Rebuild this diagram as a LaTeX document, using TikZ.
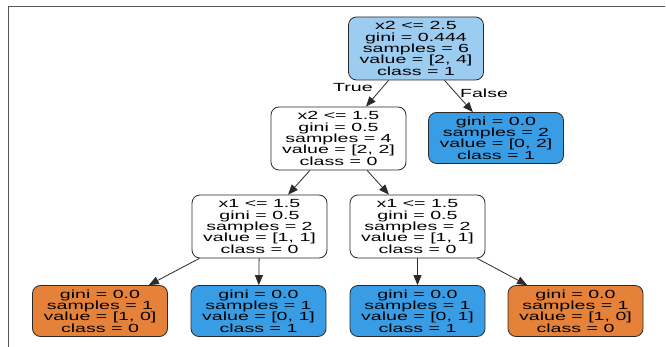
\documentclass[tikz,border=0pt]{standalone}
\usepackage{fontspec}
\setmainfont{Liberation Sans}[FakeStretch=1.66]
\usetikzlibrary{arrows.meta}
\definecolor{lblue}{HTML}{9DCCF1}
\definecolor{dblue}{HTML}{399DE5}
\definecolor{orng}{HTML}{E58139}
\definecolor{framec}{HTML}{555555}
\definecolor{edgec}{HTML}{2A2A2A}
\tikzset{
  tnode/.style={draw=edgec, rounded corners=8pt, line width=0.8pt, align=center,
    inner sep=0pt, minimum width=135pt, minimum height=63pt,
    font=\fontsize{11.8}{11.4}\selectfont, text=black},
  leafnode/.style={tnode, minimum height=51pt},
  edge/.style={draw=edgec, line width=0.8pt, -{Triangle[length=10pt,width=8pt]}},
  elabel/.style={font=\fontsize{11.8}{11.4}\selectfont, inner sep=0pt, text=black}
}
\begin{document}
\begin{tikzpicture}[x=1pt,y=-1pt]
\useasboundingbox (0,0) rectangle (666,347);
\fill[white] (0,0) rectangle (666,347);
\draw[framec, line width=1.4pt] (8.5,347) -- (8.5,6.5) -- (665,6.5);

\node[tnode, fill=lblue] (root) at (416,48.5) {x2 <= 2.5\\gini = 0.444\\samples = 6\\value = [2, 4]\\class = 1};
\node[tnode, fill=white] (n1) at (338.5,138.5) {x2 <= 1.5\\gini = 0.5\\samples = 4\\value = [2, 2]\\class = 0};
\node[leafnode, fill=dblue] (lf) at (496,138) {gini = 0.0\\samples = 2\\value = [0, 2]\\class = 1};
\node[tnode, fill=white] (n2l) at (259.5,226.5) {x1 <= 1.5\\gini = 0.5\\samples = 2\\value = [1, 1]\\class = 0};
\node[tnode, fill=white] (n2r) at (417.5,226.5) {x1 <= 1.5\\gini = 0.5\\samples = 2\\value = [1, 1]\\class = 0};
\node[leafnode, fill=orng] (l1) at (100,311) {gini = 0.0\\samples = 1\\value = [1, 0]\\class = 0};
\node[leafnode, fill=dblue] (l2) at (258.5,311) {gini = 0.0\\samples = 1\\value = [0, 1]\\class = 1};
\node[leafnode, fill=dblue] (l3) at (417.5,311) {gini = 0.0\\samples = 1\\value = [0, 1]\\class = 1};
\node[leafnode, fill=orng] (l4) at (575.5,311) {gini = 0.0\\samples = 1\\value = [1, 0]\\class = 0};

\draw[edge] (root) -- (n1);
\draw[edge] (root) -- (lf);
\draw[edge] (n1) -- (n2l);
\draw[edge] (n1) -- (n2r);
\draw[edge] (n2l) -- (l1);
\draw[edge] (n2l) -- (l2);
\draw[edge] (n2r) -- (l3);
\draw[edge] (n2r) -- (l4);

\node[elabel] (tl) at (353,88) {True};
\node[elabel] (fl) at (484,93.5) {False};
\end{tikzpicture}
\end{document}
